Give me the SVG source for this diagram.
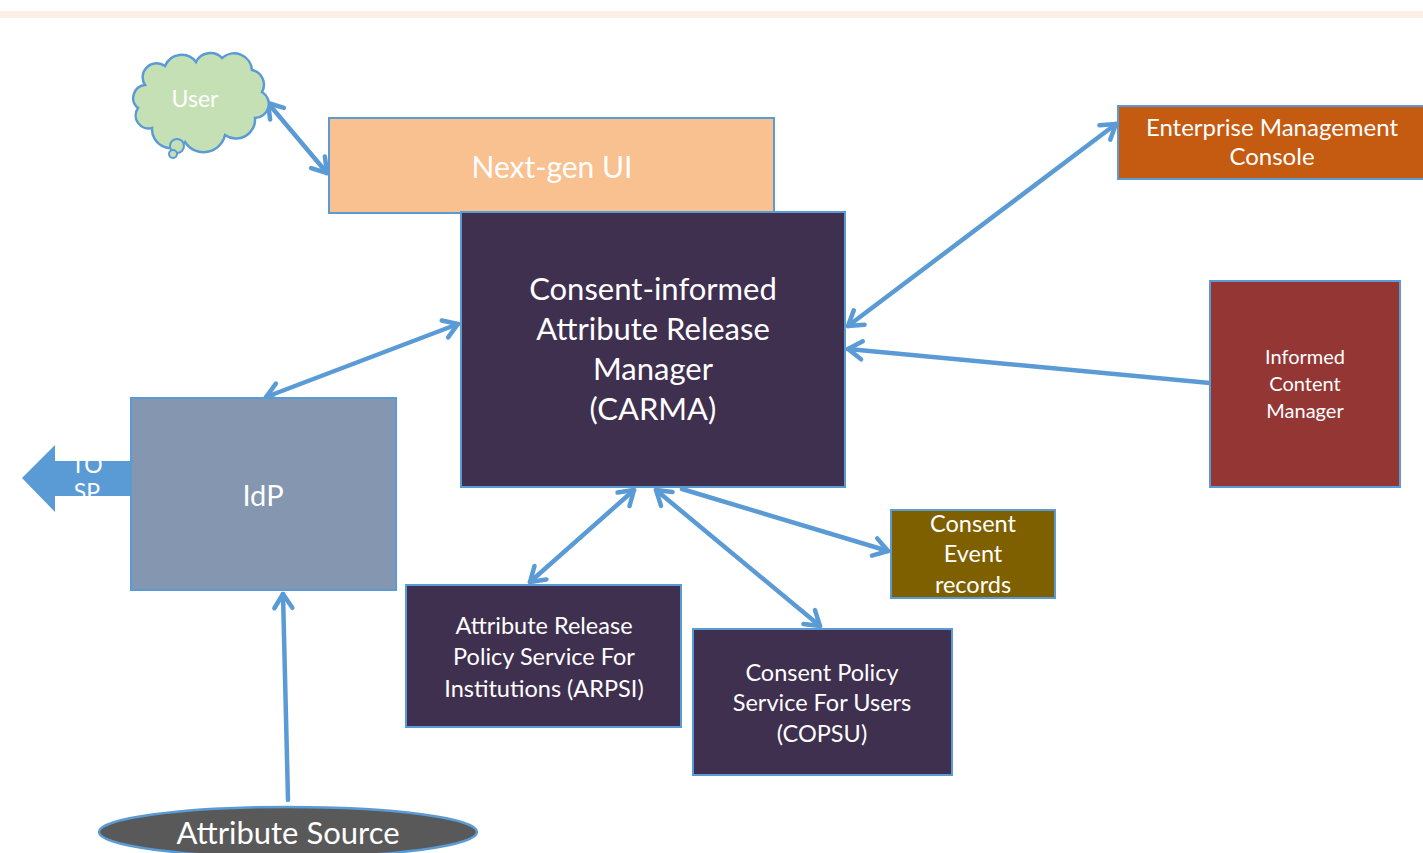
<svg xmlns="http://www.w3.org/2000/svg" width="1423" height="853" viewBox="0 0 1423 853">
<style>
.lbl{font-family:Lato,"Open Sans","Liberation Sans",sans-serif;fill:#ffffff;text-anchor:middle}
.box{stroke:#5b9bd5;stroke-width:2}
.con{stroke:#5b9bd5;stroke-width:4.5;fill:none;stroke-linecap:round}
</style>
<defs>
<marker id="ah" markerUnits="userSpaceOnUse" viewBox="-20 -14 24 28" markerWidth="24" markerHeight="28" refX="0" refY="0" orient="auto-start-reverse" overflow="visible">
<path d="M -14 -9 L 0 0 L -14 9" fill="none" stroke="#5b9bd5" stroke-width="4.5" stroke-linecap="round" stroke-linejoin="round"/>
</marker>
<clipPath id="spclip"><rect x="22" y="461" width="112" height="35"/></clipPath>
</defs>
<rect x="0" y="11" width="1423" height="7" fill="#fcefe6"/>

<g id="connectors">
<line class="con" x1="268" y1="103" x2="327" y2="173" marker-start="url(#ah)" marker-end="url(#ah)"/>
<line class="con" x1="848" y1="326" x2="1116" y2="124" marker-start="url(#ah)" marker-end="url(#ah)"/>
<line class="con" x1="1210" y1="383" x2="848" y2="349" marker-end="url(#ah)"/>
<line class="con" x1="266" y1="397" x2="458" y2="324" marker-start="url(#ah)" marker-end="url(#ah)"/>
<line class="con" x1="634" y1="490" x2="530" y2="582" marker-start="url(#ah)" marker-end="url(#ah)"/>
<line class="con" x1="656" y1="490" x2="820" y2="626" marker-start="url(#ah)" marker-end="url(#ah)"/>
<line class="con" x1="682" y1="489" x2="888" y2="551" marker-end="url(#ah)"/>
<line class="con" x1="288" y1="800" x2="283" y2="594" marker-end="url(#ah)"/>
</g>

<g id="user">
<path d="M 145 85 A 14 14 0 0 1 165 66 A 18 18 0 0 1 196 62 A 16 16 0 0 1 222 58 A 18 18 0 0 1 252 70 A 15 15 0 0 1 262 92 A 14 14 0 0 1 255 118 A 19 19 0 0 1 225 135 A 22 22 0 0 1 185 142 A 19 19 0 0 1 152 128 A 13 13 0 0 1 138 108 A 13 13 0 0 1 145 85 Z" fill="#c5e0b4" stroke="#5b9bd5" stroke-width="2.5"/>
<circle cx="177" cy="146" r="7" fill="#c5e0b4" stroke="#5b9bd5" stroke-width="2"/>
<circle cx="173" cy="154" r="4" fill="#c5e0b4" stroke="#5b9bd5" stroke-width="2"/>
<text class="lbl" x="195" y="107" font-size="23">User</text>
</g>

<g id="to-sp">
<path d="M 22 478 L 55 445 L 55 461 L 134 461 L 134 496 L 55 496 L 55 512 Z" fill="#5b9bd5"/>
<g clip-path="url(#spclip)">
<text class="lbl" x="87" y="473" font-size="23">TO</text>
<text class="lbl" x="87" y="500" font-size="23">SP</text>
</g>
</g>

<g id="nextgen">
<rect class="box" x="329" y="118" width="445" height="95" fill="#f9c090"/>
<text class="lbl" x="552" y="178" font-size="30">Next-gen UI</text>
</g>

<g id="carma">
<rect class="box" x="461" y="212" width="384" height="275" fill="#3f3050"/>
<text class="lbl" font-size="31"><tspan x="653" y="300">Consent-informed</tspan><tspan x="653" y="340">Attribute Release</tspan><tspan x="653" y="380">Manager</tspan><tspan x="653" y="420">(CARMA)</tspan></text>
</g>

<g id="emc">
<rect class="box" x="1118" y="106" width="310" height="73" fill="#c55a11"/>
<text class="lbl" font-size="24"><tspan x="1272" y="136">Enterprise Management</tspan><tspan x="1272" y="165">Console</tspan></text>
</g>

<g id="icm">
<rect class="box" x="1210" y="281" width="190" height="206" fill="#943634"/>
<text class="lbl" font-size="20"><tspan x="1305" y="364">Informed</tspan><tspan x="1305" y="391">Content</tspan><tspan x="1305" y="418">Manager</tspan></text>
</g>

<g id="idp">
<rect class="box" x="131" y="398" width="265" height="192" fill="#8496b0"/>
<text class="lbl" x="263" y="506" font-size="29">IdP</text>
</g>

<g id="arpsi">
<rect class="box" x="406" y="585" width="275" height="142" fill="#3f3050"/>
<text class="lbl" font-size="23.5"><tspan x="544" y="634">Attribute Release</tspan><tspan x="544" y="665">Policy Service For</tspan><tspan x="544" y="697">Institutions (ARPSI)</tspan></text>
</g>

<g id="copsu">
<rect class="box" x="693" y="629" width="259" height="146" fill="#3f3050"/>
<text class="lbl" font-size="23.5"><tspan x="822" y="681">Consent Policy</tspan><tspan x="822" y="711">Service For Users</tspan><tspan x="822" y="742">(COPSU)</tspan></text>
</g>

<g id="consent-events">
<rect class="box" x="891" y="510" width="164" height="88" fill="#7f6000"/>
<text class="lbl" font-size="23.5"><tspan x="973" y="532">Consent</tspan><tspan x="973" y="562">Event</tspan><tspan x="973" y="593">records</tspan></text>
</g>

<g id="attr-source">
<ellipse cx="288" cy="832" rx="189" ry="25" fill="#595959" stroke="#5b9bd5" stroke-width="2.5"/>
<text class="lbl" x="288" y="844" font-size="31">Attribute Source</text>
</g>
</svg>
